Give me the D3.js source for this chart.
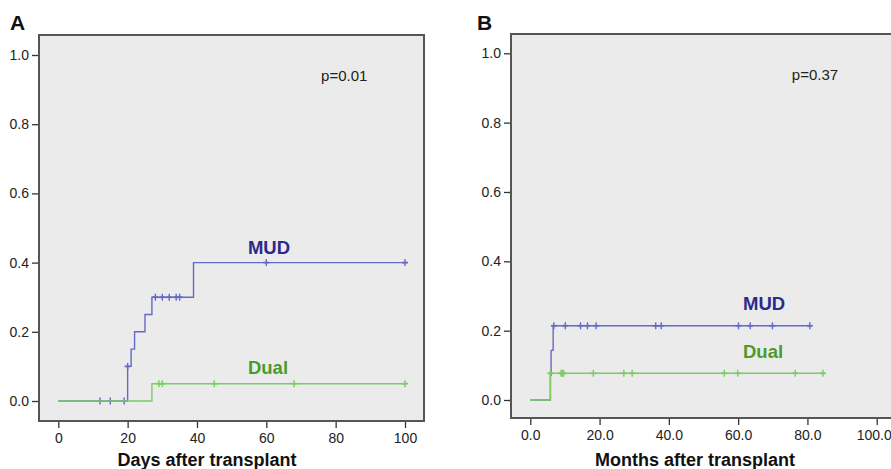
<!DOCTYPE html>
<html>
<head>
<meta charset="utf-8">
<script src="https://cdn.jsdelivr.net/npm/d3@7"></script>
<style>
  body { margin: 0; background: #fff; }
  svg { display: block; font-family: "Liberation Sans", Arial, sans-serif; }
</style>
</head>
<body>
<script>
// ---- data ----
// panel A (days)
var aMudTimes  = [0, 20, 21, 22, 25, 27, 39, 100];
var aMudValues = [0, 0.10, 0.15, 0.20, 0.25, 0.30, 0.40, 0.40];
var aMudCensor = [12, 15, 19, 20, 28, 30, 32, 34, 35, 60, 100];
var aDualTimes  = [0, 27, 100];
var aDualValues = [0, 0.05, 0.05];
var aDualCensor = [29, 30, 45, 68, 100];

// panel B (months)
var bMudTimes  = [0, 5.8, 6.0, 6.6, 80.7];
var bMudValues = [0, 0.071, 0.143, 0.214, 0.214];
var bMudCensor = [6.8, 10.1, 14.5, 16.5, 19.0, 36.2, 37.8, 60.1, 63.5, 69.9, 80.7];
var bDualTimes  = [0, 5.8, 84.5];
var bDualValues = [0, 0.077, 0.077];
var bDualCensor = [5.8, 8.9, 9.2, 9.6, 18.2, 27.0, 29.4, 56.0, 59.9, 76.5, 84.5];

var yTicks = [0, 0.2, 0.4, 0.6, 0.8, 1.0];
var xTicks = [0, 20, 40, 60, 80, 100];

var mudLine = "#6669c6", mudText = "#2b2a8c";
var dualLine = "#7ccb67", dualText = "#4c9a2c";

var svg = d3.select("body").append("svg")
  .attr("width", 891)
  .attr("height", 469);

function stepValue(times, values, t) {
  var v = values[0];
  for (var i = 0; i < times.length; i++) {
    if (times[i] <= t) v = values[i];
  }
  return v;
}

function drawPanel(p) {
  var g = svg.append("g");
  var x = d3.scaleLinear().domain([0, 100]).range([p.x0, p.x1]);
  var y = d3.scaleLinear().domain([0, 1]).range([p.y0, p.y1]);

  g.append("rect")
    .attr("x", p.left).attr("y", p.top)
    .attr("width", p.right - p.left).attr("height", p.bottom - p.top)
    .attr("fill", "#ebebeb")
    .attr("stroke", "#555").attr("stroke-width", 2);

  // y axis
  var ya = g.append("g")
    .attr("transform", "translate(" + (p.left - 1) + ",0)")
    .call(d3.axisLeft(y).tickValues(yTicks).tickFormat(d3.format(".1f")).tickSize(6).tickPadding(3));
  ya.select(".domain").remove();
  ya.selectAll("line").attr("stroke", "#333").attr("stroke-width", 1.3);
  ya.selectAll("text").attr("font-size", 14).attr("fill", "#222").attr("font-family", "Liberation Sans, Arial");

  // x axis
  var xa = g.append("g")
    .attr("transform", "translate(0," + (p.bottom + 1) + ")")
    .call(d3.axisBottom(x).tickValues(xTicks).tickFormat(p.fmt).tickSize(6).tickPadding(5));
  xa.select(".domain").remove();
  xa.selectAll("line").attr("stroke", "#333").attr("stroke-width", 1.3);
  xa.selectAll("text").attr("font-size", 14).attr("fill", "#222").attr("font-family", "Liberation Sans, Arial");
  // last label sits right at the page edge in panel B
  if (p.lastDx) {
    xa.selectAll(".tick").filter(function(d) { return d === 100; })
      .select("text").attr("dx", p.lastDx);
  }

  var line = d3.line()
    .x(function(d) { return x(d[0]); })
    .y(function(d) { return y(d[1]); })
    .curve(d3.curveStepAfter);

  p.series.forEach(function(s) {
    var pts = d3.zip(s.times, s.values);
    g.append("path")
      .attr("d", line(pts))
      .attr("fill", "none")
      .attr("stroke", s.color)
      .attr("stroke-width", 1.4);

    var marks = g.append("g");
    s.censor.forEach(function(t) {
      var cx = x(t), cy = y(stepValue(s.times, s.values, t));
      marks.append("line")
        .attr("x1", cx).attr("x2", cx).attr("y1", cy - 3.5).attr("y2", cy + 3.5)
        .attr("stroke", s.color).attr("stroke-width", 1.4);
      marks.append("line")
        .attr("x1", cx - 3).attr("x2", cx + 3).attr("y1", cy).attr("y2", cy)
        .attr("stroke", s.color).attr("stroke-width", 1.8);
    });

    g.append("text")
      .attr("x", x(s.labelX)).attr("y", y(s.labelY))
      .attr("font-size", 18.5).attr("font-weight", "bold")
      .attr("fill", s.textColor)
      .text(s.name);
  });

  g.append("text")
    .attr("x", x(p.pX)).attr("y", y(p.pY))
    .attr("font-size", 15).attr("fill", "#222")
    .text(p.pText);

  g.append("text")
    .attr("x", p.letterX).attr("y", 30)
    .attr("font-size", 21).attr("font-weight", "bold").attr("fill", "#111")
    .text(p.letter);

  g.append("text")
    .attr("x", p.titleX).attr("y", 466)
    .attr("text-anchor", "middle")
    .attr("font-size", 18).attr("font-weight", "bold").attr("fill", "#111")
    .text(p.title);
}

drawPanel({
  letter: "A", letterX: 10,
  left: 39, right: 424, top: 35, bottom: 421,
  x0: 58.3, x1: 405, y0: 401, y1: 55,
  fmt: d3.format("d"),
  title: "Days after transplant", titleX: 207,
  pText: "p=0.01", pX: 75.8, pY: 0.926,
  series: [
    { name: "MUD", times: aMudTimes, values: aMudValues, censor: aMudCensor,
      color: mudLine, textColor: mudText, labelX: 54.7, labelY: 0.426 },
    { name: "Dual", times: aDualTimes, values: aDualValues, censor: aDualCensor,
      color: dualLine, textColor: dualText, labelX: 54.7, labelY: 0.077 }
  ]
});

drawPanel({
  letter: "B", letterX: 477,
  left: 511, right: 900, top: 34, bottom: 418,
  x0: 530.3, x1: 876.7, y0: 400, y1: 53.3,
  fmt: d3.format(".1f"), lastDx: -3,
  title: "Months after transplant", titleX: 695,
  pText: "p=0.37", pX: 75.5, pY: 0.923,
  series: [
    { name: "MUD", times: bMudTimes, values: bMudValues, censor: bMudCensor,
      color: mudLine, textColor: mudText, labelX: 61.4, labelY: 0.261 },
    { name: "Dual", times: bDualTimes, values: bDualValues, censor: bDualCensor,
      color: dualLine, textColor: dualText, labelX: 61.4, labelY: 0.12 }
  ]
});
</script>
</body>
</html>
